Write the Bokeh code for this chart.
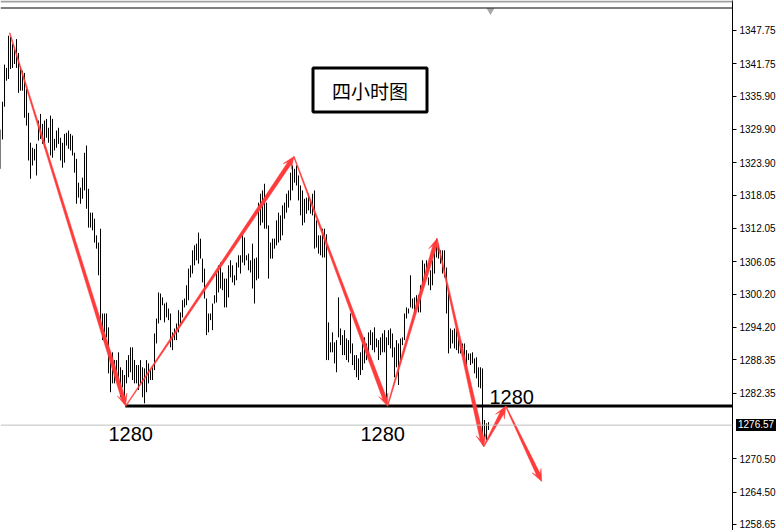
import numpy as np
from bokeh.plotting import figure
from bokeh.layouts import column
from bokeh.models import Range1d, FixedTicker, NumeralTickFormatter, Span, Div
from bokeh.core.properties import value
from bokeh.embed import file_html
from bokeh.resources import INLINE

# ---- data: 4-hour bars (high / low) ----
highs = [
    1329.9, 1334.9, 1341.6, 1341.0, 1346.8, 1346.6, 1345.3, 1344.4, 1346.2, 1343.7,
    1341.0, 1340.5, 1340.1, 1337.2, 1332.9, 1327.5, 1326.6, 1326.4, 1327.3, 1331.5,
    1332.7, 1330.9, 1331.5, 1331.8, 1330.2, 1332.4, 1331.8, 1328.2, 1329.7, 1330.2,
    1328.4, 1327.5, 1329.1, 1329.3, 1329.7, 1329.1, 1328.8, 1325.7, 1324.6, 1320.3,
    1319.4, 1321.2, 1325.7, 1327.0, 1319.2, 1314.9, 1314.9, 1313.8, 1310.8, 1309.5,
    1312.0, 1296.7, 1296.7, 1296.7, 1294.2, 1289.7, 1289.7, 1288.3, 1288.3, 1289.7,
    1287.0, 1286.5, 1285.6, 1288.3, 1289.2, 1290.6, 1290.6, 1288.3, 1287.4, 1287.4,
    1288.3, 1287.0, 1286.8, 1288.3, 1287.7, 1286.5, 1287.0, 1293.1, 1295.8, 1300.5,
    1300.3, 1299.6, 1298.5, 1298.7, 1297.6, 1296.7, 1293.3, 1294.0, 1294.9, 1297.3,
    1296.9, 1299.1, 1299.4, 1301.8, 1304.8, 1305.4, 1308.1, 1309.0, 1309.3, 1311.3,
    1310.2, 1306.6, 1304.8, 1299.4, 1296.7, 1296.7, 1298.5, 1300.0, 1303.9, 1305.4,
    1305.9, 1304.1, 1303.0, 1303.0, 1305.4, 1306.3, 1305.4, 1303.6, 1305.9, 1307.2,
    1307.2, 1310.8, 1310.4, 1307.2, 1307.5, 1306.3, 1309.3, 1306.6, 1306.8, 1316.7,
    1318.3, 1318.9, 1320.1, 1316.7, 1312.6, 1309.5, 1310.2, 1310.2, 1313.5, 1314.9,
    1314.4, 1316.2, 1316.7, 1318.3, 1318.9, 1322.1, 1323.4, 1322.8, 1323.4, 1321.6,
    1319.8, 1318.9, 1317.4, 1317.6, 1318.3, 1317.1, 1318.3, 1318.9, 1313.5, 1310.8,
    1310.8, 1312.0, 1312.0, 1311.0, 1295.1, 1291.5, 1293.3, 1291.5, 1291.9, 1299.6,
    1294.0, 1292.8, 1293.7, 1292.2, 1291.9, 1296.7, 1291.3, 1289.2, 1289.2, 1288.6,
    1289.7, 1291.3, 1292.4, 1291.3, 1293.3, 1293.7, 1293.3, 1294.2, 1292.2, 1291.9,
    1292.4, 1293.1, 1293.7, 1292.4, 1293.7, 1294.0, 1293.1, 1290.6, 1291.9, 1291.3,
    1292.2, 1292.4, 1296.7, 1297.8, 1297.6, 1303.6, 1299.4, 1299.6, 1300.0, 1300.0,
    1301.8, 1306.3, 1305.7, 1306.3, 1303.2, 1304.5, 1306.3, 1308.4, 1310.2, 1309.0,
    1308.1, 1308.1, 1308.1, 1305.0, 1300.5, 1294.0, 1293.7, 1294.0, 1294.0, 1293.1,
    1291.0, 1291.3, 1291.3, 1290.1, 1289.5, 1289.5, 1289.7, 1288.6, 1288.8, 1287.0,
    1287.0, 1286.8, 1277.5, 1276.9, 1277.1,
]
lows = [
    1322.8, 1328.1, 1334.0, 1338.7, 1339.0, 1340.8, 1341.0, 1341.7, 1341.0, 1336.5,
    1336.9, 1336.9, 1332.0, 1330.6, 1324.3, 1321.0, 1323.4, 1324.3, 1321.6, 1327.9,
    1328.2, 1327.3, 1326.6, 1328.4, 1327.5, 1325.2, 1324.8, 1326.1, 1326.6, 1327.3,
    1324.3, 1323.0, 1323.9, 1327.0, 1326.4, 1326.1, 1325.2, 1322.1, 1316.5, 1317.6,
    1316.5, 1317.4, 1318.9, 1315.6, 1312.2, 1312.2, 1311.7, 1309.5, 1308.4, 1303.6,
    1294.9, 1291.9, 1293.3, 1292.4, 1285.9, 1282.5, 1284.1, 1284.1, 1285.2, 1283.8,
    1281.6, 1283.4, 1281.1, 1284.1, 1285.2, 1286.1, 1284.7, 1284.1, 1284.1, 1282.9,
    1284.1, 1281.6, 1280.5, 1282.5, 1284.1, 1284.7, 1284.7, 1286.5, 1291.3, 1294.9,
    1295.5, 1298.2, 1295.1, 1296.0, 1295.5, 1290.6, 1290.1, 1291.9, 1291.9, 1293.3,
    1294.9, 1296.0, 1297.8, 1298.2, 1299.1, 1303.2, 1303.9, 1305.4, 1306.3, 1305.7,
    1306.6, 1302.3, 1299.4, 1292.8, 1293.3, 1295.5, 1293.7, 1298.5, 1298.7, 1300.5,
    1301.2, 1300.9, 1297.8, 1297.8, 1299.6, 1303.2, 1302.3, 1301.8, 1302.7, 1305.0,
    1303.9, 1305.9, 1305.4, 1306.3, 1304.5, 1304.1, 1301.2, 1298.5, 1302.7, 1303.0,
    1312.6, 1313.1, 1312.0, 1312.0, 1303.0, 1306.6, 1306.6, 1308.4, 1309.0, 1309.5,
    1309.9, 1310.8, 1313.8, 1314.9, 1315.8, 1317.1, 1318.9, 1320.3, 1319.8, 1317.1,
    1314.4, 1312.6, 1313.1, 1314.7, 1315.3, 1314.7, 1314.4, 1308.4, 1308.6, 1307.5,
    1307.2, 1306.8, 1306.8, 1288.3, 1288.3, 1289.7, 1289.7, 1287.7, 1286.1, 1292.4,
    1291.0, 1289.2, 1289.2, 1288.3, 1287.9, 1289.5, 1287.4, 1286.5, 1285.2, 1284.7,
    1285.6, 1286.5, 1287.7, 1288.3, 1289.5, 1291.0, 1290.1, 1289.7, 1290.6, 1288.3,
    1289.2, 1289.7, 1289.7, 1280.7, 1291.0, 1290.4, 1288.8, 1285.2, 1287.0, 1283.8,
    1288.3, 1291.0, 1291.9, 1295.8, 1296.7, 1297.8, 1297.6, 1296.9, 1298.2, 1296.9,
    1296.9, 1300.9, 1302.7, 1303.0, 1301.8, 1300.9, 1301.8, 1303.9, 1306.8, 1306.6,
    1305.7, 1303.9, 1303.2, 1296.7, 1289.5, 1290.4, 1291.3, 1290.4, 1290.1, 1289.5,
    1289.5, 1289.2, 1287.7, 1286.8, 1288.3, 1287.4, 1287.7, 1285.9, 1285.0, 1283.4,
    1283.2, 1273.0, 1274.4, 1273.9, 1275.7,
]
bar_index = list(range(len(highs)))

price_ticks = [1347.75, 1341.75, 1335.90, 1329.90, 1323.90, 1318.05, 1312.05,
               1306.05, 1300.20, 1294.20, 1288.35, 1282.35, 1270.50, 1264.50, 1258.65]
last_price = 1276.57
support_level = 1280.0
support_start = 62.4

# swing points of the hand-drawn arrows (bar index, price)
pivot_x = [4.6, 62.6, 146.7, 193.5, 218.2, 241.6, 252.6, 270.6]
pivot_y = [1347.3, 1280.0, 1325.0, 1280.0, 1310.2, 1272.7, 1280.0, 1266.4]

level_labels = ["1280", "1280", "1280"]
level_label_x = [54.0, 180.0, 244.5]
level_label_y = [1274.97, 1274.97, 1281.64]

title_text = "四小时图"
title_x = 184.75
title_y = 1337.0

# ---- layout constants ----
PX_X = 2.0       # pixels per bar
PX_Y = 5.544     # pixels per price unit
FRAME_W = 732
FRAME_H = 530
X_START = 0.0
Y_TOP = 1353.16

fig = figure(frame_width=FRAME_W, frame_height=FRAME_H,
             x_range=Range1d(X_START, X_START + FRAME_W / PX_X),
             y_range=Range1d(Y_TOP - FRAME_H / PX_Y, Y_TOP),
             x_axis_location=None, y_axis_location="right",
             output_backend="svg", toolbar_location=None,
             min_border_left=0, min_border_right=0, min_border_top=0, min_border_bottom=0)
fig.grid.visible = False
fig.outline_line_color = None
fig.background_fill_color = "white"
fig.border_fill_color = "white"

ax = fig.yaxis[0]
ax.ticker = FixedTicker(ticks=price_ticks)
ax.formatter = NumeralTickFormatter(format="0.00")
ax.axis_line_color = "black"
ax.major_tick_out = 4
ax.major_tick_in = 0
ax.minor_tick_out = 0
ax.minor_tick_in = 0
ax.major_tick_line_color = "black"
ax.major_label_text_font = "Liberation Sans"
ax.major_label_text_font_size = "10px"
ax.major_label_text_color = "black"
ax.major_label_standoff = 3

# top window lines
fig.add_layout(Span(location=Y_TOP - 1.0 / PX_Y, dimension="width", line_color="#a0a0a0", line_width=2))
fig.add_layout(Span(location=Y_TOP - 7.5 / PX_Y, dimension="width", line_color="black", line_width=1))

# current price line
fig.add_layout(Span(location=last_price, dimension="width", line_color="#c0c0c0", line_width=1))

# bars
fig.segment(x0=bar_index, y0=lows, x1=bar_index, y1=highs, line_color="black", line_width=1)

# support line at 1280
fig.segment(x0=[support_start], y0=[support_level], x1=[X_START + FRAME_W / PX_X + 5],
            y1=[support_level], line_color="black", line_width=3)

# chart shift marker
fig.scatter(x=[len(highs)], y=[Y_TOP - 10 / PX_Y], marker="inverted_triangle",
            size=8, fill_color="#a8a8a8", line_color=None)


def arrow_polygon(xa, ya, xb, yb, w0=0.8, w1=4.0, hl=12.0, hw=10.0):
    X0, Y0 = xa * PX_X, ya * PX_Y
    X1, Y1 = xb * PX_X, yb * PX_Y
    dx, dy = X1 - X0, Y1 - Y0
    L = np.hypot(dx, dy)
    ux, uy = dx / L, dy / L
    nx, ny = -uy, ux
    nX, nY = X1 - ux * hl * 0.65, Y1 - uy * hl * 0.65
    bX, bY = X1 - ux * hl, Y1 - uy * hl
    pts = [
        (X0 + nx * w0 / 2, Y0 + ny * w0 / 2),
        (nX + nx * w1 / 2, nY + ny * w1 / 2),
        (bX + nx * hw / 2, bY + ny * hw / 2),
        (X1, Y1),
        (bX - nx * hw / 2, bY - ny * hw / 2),
        (nX - nx * w1 / 2, nY - ny * w1 / 2),
        (X0 - nx * w0 / 2, Y0 - ny * w0 / 2),
    ]
    return [q[0] / PX_X for q in pts], [q[1] / PX_Y for q in pts]


axs, ays = [], []
for k in range(len(pivot_x) - 1):
    xs, ys = arrow_polygon(pivot_x[k], pivot_y[k], pivot_x[k + 1], pivot_y[k + 1])
    axs.append(xs)
    ays.append(ys)
fig.patches(xs=axs, ys=ays, fill_color="#ff3b3b", line_color="#ff3b3b", line_width=0.5)

# level labels
fig.text(x=level_label_x, y=level_label_y, text=level_labels,
         text_font=value("Liberation Sans"), text_font_size="20px",
         text_baseline="alphabetic", text_align="left", text_color="black")

# title box
fig.rect(x=[title_x], y=[title_y], width=114, height=44, width_units="screen",
         height_units="screen", fill_color="white", line_color="black", line_width=3)
fig.text(x=[title_x], y=[title_y], text=[title_text], text_font=value("Noto Sans CJK SC"),
         text_font_size="19px", text_align="center", text_baseline="middle", text_color="black")

# current price tag on the price scale
tag_top = (Y_TOP - last_price) * PX_Y - 6
tag = Div(text="%.2f" % last_price,
          styles={"position": "absolute", "left": "736px", "top": "%dpx" % round(tag_top),
                  "background-color": "black", "color": "white",
                  "font-family": "Liberation Sans", "font-size": "10px",
                  "line-height": "12px", "padding": "0px 2px", "margin": "0px"})

p = column(fig, tag)
open("out.html", "w").write(file_html(p, INLINE))
